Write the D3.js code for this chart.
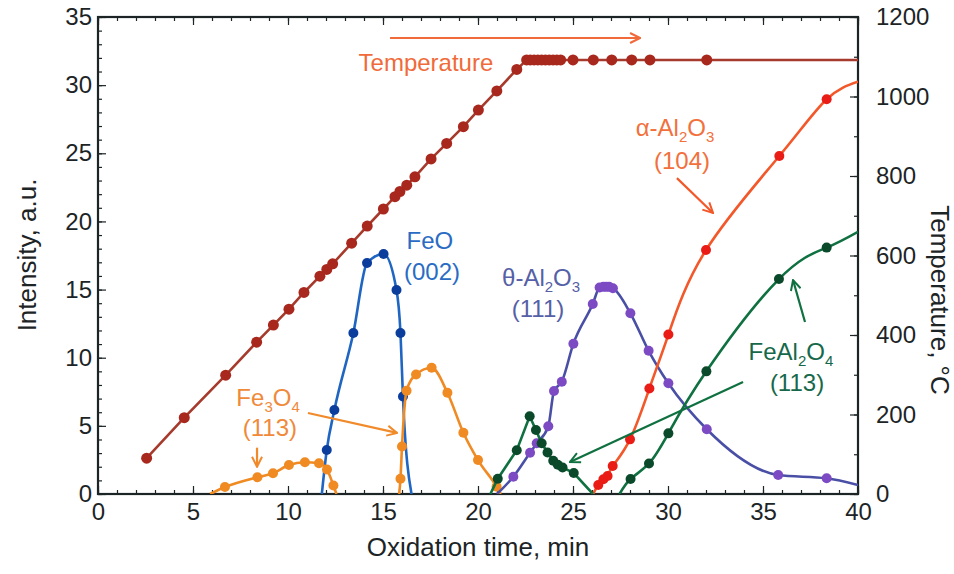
<!DOCTYPE html>
<html>
<head>
<meta charset="utf-8">
<script src="https://cdn.jsdelivr.net/npm/d3@7"></script>
<style>
  body { margin: 0; background: #fff; }
  svg { font-family: "Liberation Sans", Arial, Helvetica, sans-serif; }
</style>
</head>
<body>
<svg id="chart" width="954" height="574"></svg>
<script>
// time in min, temperature in °C
const tempPts = [[2.56, 90], [4.54, 192], [6.72, 299], [8.35, 382], [9.23, 425], [10.05, 465],
  [10.84, 507], [11.68, 548], [12.04, 565], [12.35, 579], [13.35, 631], [14.17, 674],
  [15.02, 717], [15.63, 748], [15.89, 761], [16.25, 777], [16.68, 798], [17.53, 843],
  [18.35, 882], [19.23, 924], [20.02, 966], [20.99, 1014], [22.04, 1068],
  [22.56, 1092], [22.75, 1092], [22.95, 1092], [23.15, 1092], [23.35, 1092], [23.55, 1092],
  [23.75, 1092], [23.95, 1092], [24.15, 1092], [24.35, 1092], [25.0, 1092], [26.07, 1092],
  [27.04, 1092], [28.09, 1092], [29.05, 1092], [32.04, 1092]]
const tempEnds = [null, [40, 1092]]

// intensity, a.u.
const feoPts = [[12.04, 3.23], [12.44, 6.16], [13.44, 11.81], [14.16, 16.95], [15.03, 17.61],
  [15.71, 14.97], [15.92, 11.81], [16.05, 7.15]]
const feoEnds = [[11.78, 0], [16.5, 0]]

const fe3o4aPts = [[6.68, 0.51], [8.39, 1.23], [9.21, 1.52], [10.05, 2.13], [10.89, 2.33],
  [11.63, 2.25], [12.05, 1.8], [12.39, 0.62]]
const fe3o4aEnds = [[5.9, 0], [12.55, 0]]
const fe3o4bPts = [[15.92, 1.12], [16.0, 3.48], [16.24, 7.57], [16.74, 8.77], [17.56, 9.26],
  [18.39, 7.43], [19.23, 4.5], [20.0, 2.49], [20.98, 0.54]]
const fe3o4bEnds = [[15.85, 0], [21.2, 0]]

const thetaPts = [[21.86, 1.27], [22.74, 3.03], [23.09, 3.72], [23.7, 4.97], [24.0, 7.56],
  [24.41, 8.24], [25.02, 11.03], [26.04, 13.94], [26.4, 15.15], [26.6, 15.2], [26.75, 15.2],
  [26.9, 15.2], [27.1, 15.1], [28.02, 13.26], [28.98, 10.51], [30.02, 8.12], [32.04, 4.75],
  [35.8, 1.39], [38.35, 1.15]]
const thetaEnds = [[21.0, 0], [40, 0.66]]

const alphaPts = [[26.33, 0.66], [26.6, 1.08], [26.82, 1.32], [27.09, 2.05], [28.0, 4.01],
  [29.02, 7.74], [30.02, 11.7], [32.0, 17.9], [35.86, 24.8], [38.35, 28.96]]
const alphaEnds = [[26.05, 0], [40, 30.25]]

const spinelaPts = [[21.04, 1.12], [22.04, 3.21], [22.72, 5.7], [23.05, 4.7], [23.35, 3.72],
  [23.66, 3.04], [23.96, 2.44], [24.2, 2.15], [24.45, 1.95], [25.04, 1.54]]
const spinelaEnds = [[20.65, 0], [26.05, 0]]
const spinelbPts = [[28.03, 1.1], [29.0, 2.24], [30.02, 4.45], [32.02, 9.0], [35.84, 15.77],
  [38.35, 18.08]]
const spinelbEnds = [[27.45, 0], [40, 19.24]]

const xTicks = [0, 5, 10, 15, 20, 25, 30, 35, 40]
const yTicks = [0, 5, 10, 15, 20, 25, 30, 35]
const tTicks = [0, 200, 400, 600, 800, 1000, 1200]

const W = 954
const H = 574
const m = { left: 98, right: 96, top: 17, bottom: 80 }

const svg = d3.select('#chart')
const x = d3.scaleLinear().domain([0, 40]).range([m.left, W - m.right])
const y = d3.scaleLinear().domain([0, 35]).range([H - m.bottom, m.top])
const yT = d3.scaleLinear().domain([0, 1200]).range([H - m.bottom, m.top])

const ink = '#1c2426'
const fontTick = 24

svg.append('defs').append('clipPath').attr('id', 'plot')
  .append('rect')
  .attr('x', m.left).attr('y', m.top)
  .attr('width', W - m.left - m.right).attr('height', H - m.top - m.bottom)

// arrow heads, one per colour
function arrowHead (id, color) {
  svg.select('defs').append('marker')
    .attr('id', id)
    .attr('viewBox', '0 0 12 12')
    .attr('refX', 11).attr('refY', 6)
    .attr('markerWidth', 12).attr('markerHeight', 12)
    .attr('markerUnits', 'userSpaceOnUse')
    .attr('orient', 'auto')
    .append('path')
    .attr('d', 'M1,1 L11,6 L1,11')
    .attr('fill', 'none')
    .attr('stroke', color)
    .attr('stroke-width', 2)
}

// axes
function styleAxis (g) {
  g.select('.domain').remove()
  g.selectAll('line').attr('stroke', ink).attr('stroke-width', 1.2)
  g.selectAll('text').attr('fill', ink).attr('font-size', fontTick)
    .attr('font-family', '"Liberation Sans", Arial, sans-serif')
}

svg.append('g').attr('transform', `translate(0,${H - m.bottom})`)
  .call(d3.axisBottom(x).tickValues(d3.range(0, 41, 1)).tickSize(-4).tickFormat(''))
  .call(styleAxis)
svg.append('g').attr('transform', `translate(0,${H - m.bottom})`)
  .call(d3.axisBottom(x).tickValues(xTicks).tickSize(-8).tickPadding(9).tickFormat(d3.format('d')))
  .call(styleAxis)
svg.append('g').attr('transform', `translate(0,${m.top})`)
  .call(d3.axisTop(x).tickValues(d3.range(0, 41, 1)).tickSize(-4).tickFormat(''))
  .call(styleAxis)
svg.append('g').attr('transform', `translate(0,${m.top})`)
  .call(d3.axisTop(x).tickValues(xTicks).tickSize(-8).tickFormat(''))
  .call(styleAxis)
svg.append('g').attr('transform', `translate(${m.left},0)`)
  .call(d3.axisLeft(y).tickValues(d3.range(0, 36, 1)).tickSize(-4).tickFormat(''))
  .call(styleAxis)
svg.append('g').attr('transform', `translate(${m.left},0)`)
  .call(d3.axisLeft(y).tickValues(yTicks).tickSize(-8).tickPadding(6).tickFormat(d3.format('d')))
  .call(styleAxis)
svg.append('g').attr('transform', `translate(${W - m.right},0)`)
  .call(d3.axisRight(yT).tickValues(d3.range(0, 1201, 100)).tickSize(-4).tickFormat(''))
  .call(styleAxis)
svg.append('g').attr('transform', `translate(${W - m.right},0)`)
  .call(d3.axisRight(yT).tickValues(tTicks).tickSize(-8).tickPadding(18).tickFormat(d3.format('d')))
  .call(styleAxis)

svg.append('rect')
  .attr('x', m.left).attr('y', m.top)
  .attr('width', W - m.left - m.right).attr('height', H - m.top - m.bottom)
  .attr('fill', 'none').attr('stroke', ink).attr('stroke-width', 2.2)

// axis titles
svg.append('text')
  .attr('x', (m.left + W - m.right) / 2).attr('y', 556)
  .attr('text-anchor', 'middle').attr('font-size', 26).attr('fill', ink)
  .text('Oxidation time, min')
svg.append('text')
  .attr('transform', 'translate(36,255) rotate(-90)')
  .attr('text-anchor', 'middle').attr('font-size', 26).attr('fill', ink)
  .text('Intensity, a.u.')
svg.append('text')
  .attr('transform', 'translate(931,300) rotate(90)')
  .attr('text-anchor', 'middle').attr('font-size', 26).attr('fill', ink)
  .text('Temperature, °C')

// series
const plot = svg.append('g').attr('clip-path', 'url(#plot)')

function series (pts, ends, sy, lineColor, dotColor, r, curve) {
  const path = []
  if (ends[0]) path.push(ends[0])
  pts.forEach(p => path.push(p))
  if (ends[1]) path.push(ends[1])
  const line = d3.line().x(d => x(d[0])).y(d => sy(d[1])).curve(curve)
  plot.append('path')
    .attr('d', line(path))
    .attr('fill', 'none')
    .attr('stroke', lineColor)
    .attr('stroke-width', 2.6)
  plot.append('g').selectAll('circle')
    .data(pts)
    .join('circle')
    .attr('cx', d => x(d[0]))
    .attr('cy', d => sy(d[1]))
    .attr('r', r)
    .attr('fill', dotColor)
}

const smooth = d3.curveMonotoneX
series(tempPts, tempEnds, yT, '#a63a2c', '#a8281e', 5.5, d3.curveLinear)
series(feoPts, feoEnds, y, '#1f66c2', '#0b3d9c', 5, smooth)
series(fe3o4aPts, fe3o4aEnds, y, '#f08a22', '#f08a22', 5, smooth)
series(fe3o4bPts, fe3o4bEnds, y, '#f08a22', '#f08a22', 5, smooth)
series(thetaPts, thetaEnds, y, '#4a4fa6', '#7c4bc4', 5, smooth)
series(alphaPts, alphaEnds, y, '#f2582a', '#ea1d16', 5, d3.curveNatural)
series(spinelaPts, spinelaEnds, y, '#0f7040', '#0a4a2a', 5, d3.curveLinear)
series(spinelbPts, spinelbEnds, y, '#0f7040', '#0a4a2a', 5, d3.curveNatural)

// annotations
arrowHead('ahTemp', '#f06a3a')
arrowHead('ahFe3', '#f08a2a')
arrowHead('ahAlpha', '#f2582a')
arrowHead('ahGreen', '#0f7040')

const arrows = [
  { from: [15.37, 33.46], to: [28.53, 33.46], color: '#f06a3a', head: 'ahTemp' },
  { from: [11.05, 5.94], to: [15.74, 4.48], color: '#f08a2a', head: 'ahFe3' },
  { from: [8.37, 3.4], to: [8.37, 2.0], color: '#f08a2a', head: 'ahFe3' },
  { from: [30.47, 23.18], to: [32.37, 20.62], color: '#f2582a', head: 'ahAlpha' },
  { from: [37.21, 12.62], to: [36.58, 15.7], color: '#0f7040', head: 'ahGreen' },
  { from: [33.95, 8.22], to: [24.84, 2.35], color: '#0f7040', head: 'ahGreen' }
]
svg.append('g').selectAll('line')
  .data(arrows)
  .join('line')
  .attr('x1', d => x(d.from[0])).attr('y1', d => y(d.from[1]))
  .attr('x2', d => x(d.to[0])).attr('y2', d => y(d.to[1]))
  .attr('stroke', d => d.color)
  .attr('stroke-width', 2.2)
  .attr('marker-end', d => `url(#${d.head})`)

// label parts: [text, subscript?]
const labels = [
  { at: [17.26, 31.62], color: '#f06a3a', parts: [['Temperature']] },
  { at: [17.47, 18.56], color: '#2a6cc4', parts: [['FeO']] },
  { at: [17.58, 16.29], color: '#2a6cc4', parts: [['(002)']] },
  { at: [8.95, 7.04], color: '#f08a3a', parts: [['Fe'], ['3', 1], ['O'], ['4', 1]] },
  { at: [9.05, 4.84], color: '#f08a3a', parts: [['(113)']] },
  { at: [23.32, 15.9], color: '#5560a6', parts: [['θ-Al'], ['2', 1], ['O'], ['3', 1]] },
  { at: [23.16, 13.57], color: '#5560a6', parts: [['(111)']] },
  { at: [30.37, 26.85], color: '#f2703c', parts: [['α-Al'], ['2', 1], ['O'], ['3', 1]] },
  { at: [30.74, 24.5], color: '#f2703c', parts: [['(104)']] },
  { at: [36.47, 10.42], color: '#16684a', parts: [['FeAl'], ['2', 1], ['O'], ['4', 1]] },
  { at: [36.79, 8.14], color: '#16684a', parts: [['(113)']] }
]
labels.forEach(l => {
  const t = svg.append('text')
    .attr('x', x(l.at[0])).attr('y', y(l.at[1]))
    .attr('dy', '0.35em')
    .attr('text-anchor', 'middle')
    .attr('font-size', 24)
    .attr('fill', l.color)
  l.parts.forEach(p => {
    const s = t.append('tspan').text(p[0])
    if (p[1]) s.attr('font-size', 15).attr('dy', 6)
    else if (t.selectAll('tspan').size() > 1) s.attr('dy', -6)
  })
})
</script>
</body>
</html>
